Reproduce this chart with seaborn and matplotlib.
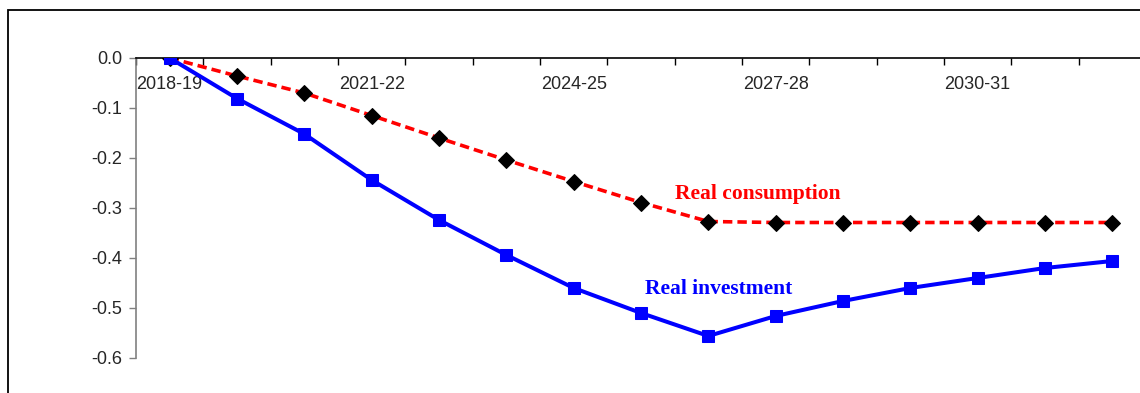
import numpy as np
import pandas as pd
import matplotlib
matplotlib.use("Agg")
import matplotlib.pyplot as plt
import seaborn as sns
from matplotlib.patches import Rectangle

years = ["2018-19", "2019-20", "2020-21", "2021-22", "2022-23", "2023-24", "2024-25",
         "2025-26", "2026-27", "2027-28", "2028-29", "2029-30", "2030-31", "2031-32", "2032-33"]
investment = [0.0, -0.081, -0.152, -0.244, -0.324, -0.394, -0.46, -0.51, -0.556,
              -0.516, -0.486, -0.46, -0.44, -0.42, -0.406]
consumption = [0.0, -0.036, -0.07, -0.115, -0.16, -0.204, -0.247, -0.289, -0.327,
               -0.329, -0.329, -0.329, -0.329, -0.329, -0.329]
label_every = 3
yticks = [0.0, -0.1, -0.2, -0.3, -0.4, -0.5, -0.6]

sns.set_style("white")
plt.rcParams['font.family'] = ['Liberation Sans', 'DejaVu Sans']

df = pd.DataFrame({"pos": np.arange(len(years)), "year": years,
                   "investment": investment, "consumption": consumption})

W, H = 1140, 393
fig = plt.figure(figsize=(W / 100, H / 100), dpi=100)
ax = fig.add_axes([136 / W, 1 - 358 / H, (1146 - 136) / W, 300 / H])

sns.lineplot(data=df, x="pos", y="consumption", ax=ax, color="#FF0000", lw=2.6,
             linestyle=(0, (2.6, 1.4)), marker="D", markersize=8.5,
             markerfacecolor="black", markeredgecolor="black", zorder=3)
sns.lineplot(data=df, x="pos", y="investment", ax=ax, color="#0000FF", lw=2.9,
             marker="s", markersize=9, markerfacecolor="#0000FF",
             markeredgecolor="#0000FF", zorder=4)

ax.set_xlim(-0.5, len(years) - 0.5)
ax.set_ylim(-0.6, 0.0)
ax.set_xlabel("")
ax.set_ylabel("")

# y axis
ax.set_yticks(yticks)
ax.set_yticklabels([f"{v:.1f}" for v in yticks])
ax.tick_params(axis="y", which="major", left=True, direction="out", length=5,
               width=1, color="#808080", labelsize=13, pad=5)

# x axis along the top (at y = 0)
ax.xaxis.set_ticks_position("top")
major = df["pos"][::label_every].tolist()
ax.set_xticks(major)
ax.set_xticklabels(df["year"][::label_every].tolist())
ax.set_xticks(np.arange(len(years) + 1) - 0.5, minor=True)
ax.tick_params(axis="x", which="major", top=True, bottom=False, labeltop=True,
               labelbottom=False, length=0, labelsize=13, pad=-25)
ax.tick_params(axis="x", which="minor", top=True, bottom=False, direction="in",
               length=5, width=1, color="black")

for s in ["right", "bottom"]:
    ax.spines[s].set_visible(False)
ax.spines["top"].set_color("black")
ax.spines["top"].set_linewidth(1.2)
ax.spines["left"].set_color("#808080")
ax.spines["left"].set_linewidth(1.2)
ax.grid(False)

ax.text(8.73, -0.272, "Real consumption", color="#FF0000", fontsize=15.5,
        fontweight="bold", family=["Liberation Serif", "DejaVu Serif"],
        ha="center", va="center")
ax.text(8.16, -0.463, "Real investment", color="#0000FF", fontsize=15.5,
        fontweight="bold", family=["Liberation Serif", "DejaVu Serif"],
        ha="center", va="center")

# outer frame
fig.patches.append(Rectangle((8 / W, -0.2), 1.2, 1.2 - 10 / H, transform=fig.transFigure,
                             fill=False, edgecolor="black", lw=1.3))

fig.savefig("out.png", dpi=100)
